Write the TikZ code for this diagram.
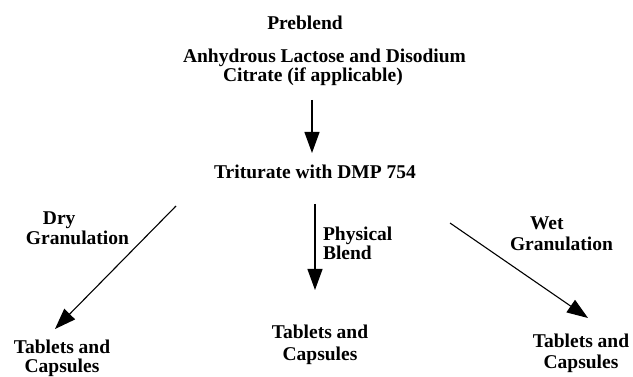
\documentclass[tikz,border=0pt]{standalone}
\usepackage{fontspec}
\setmainfont{Liberation Serif}
\usetikzlibrary{arrows.meta}
\tikzset{
  txt/.style={font=\bfseries\fontsize{19.5}{20}\selectfont, inner sep=0pt, outer sep=0pt},
  arr/.style={line width=1.1pt, -{Triangle[length=21pt,width=15pt]}},
}
\begin{document}
\begin{tikzpicture}[x=1pt,y=-1pt]
\useasboundingbox (0,0) rectangle (633,377);
\node[txt, anchor=base] (pre) at (305,30) {Preblend};
\node[txt, anchor=base west, align=left] (anh) at (183,82) {Anhydrous Lactose and Disodium\\[-1pt]\hspace*{40pt}Citrate (if applicable)};
\node[txt, anchor=base] (tri) at (315,179) {Triturate with DMP 754};
\node[txt, anchor=base west, align=left] (dry) at (26,245) {\hspace*{17pt}Dry\\[0pt]Granulation};
\node[txt, anchor=base west, align=left] (phys) at (323,260) {Physical\\[-1pt]Blend};
\node[txt, anchor=base west, align=left] (wet) at (510,251) {\hspace*{20pt}Wet\\[1pt]Granulation};
\node[txt, anchor=base, align=center] (tab1) at (62,373) {Tablets and\\[0pt]Capsules};
\node[txt, anchor=base, align=center] (tab2) at (320,360) {Tablets and\\[1pt]Capsules};
\node[txt, anchor=base, align=center] (tab3) at (581,369) {Tablets and\\[1pt]Capsules};
\coordinate (a1s) at (312,100);
\coordinate (a1e) at (312,153);
\coordinate (a2s) at (176,206);
\coordinate (a2e) at (55,329);
\coordinate (a3s) at (315,204);
\coordinate (a3e) at (315,290);
\coordinate (a4s) at (450,223);
\coordinate (a4e) at (588,318);
\draw[arr] (a1s) -- (a1e);
\draw[arr] (a2s) -- (a2e);
\draw[arr] (a3s) -- (a3e);
\draw[arr] (a4s) -- (a4e);
\end{tikzpicture}
\end{document}
